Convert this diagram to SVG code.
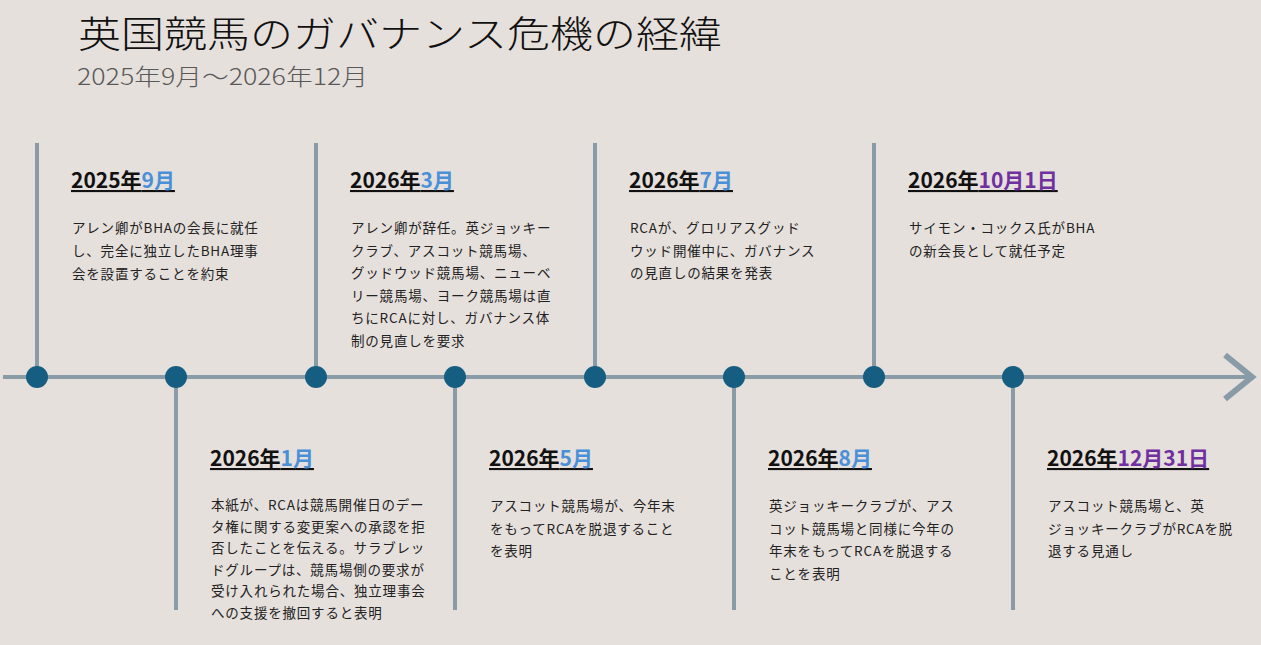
<svg xmlns="http://www.w3.org/2000/svg" width="1261" height="645" viewBox="0 0 1261 645">
<style>
.t{font-family:"Noto Sans CJK JP","Noto Sans",sans-serif}
.h{font-size:21px;font-weight:bold;fill:#111;text-decoration:underline}
.b{font-size:13.5px;fill:#222;letter-spacing:0.8px}
.bl{fill:#4a90d9}.pu{fill:#7030a0}
.v{stroke:#8a9ba8;stroke-width:4}
.d{fill:#155e82}
</style>
<rect width="1261" height="645" fill="#e6e0dc"/>
<text class="t" x="78" y="48" font-size="37" font-weight="300" fill="#111" textLength="644" lengthAdjust="spacingAndGlyphs">英国競馬のガバナンス危機の経緯</text>
<text class="t" x="77" y="85" font-size="23" font-weight="300" fill="#595959" textLength="291" lengthAdjust="spacingAndGlyphs">2025年9月～2026年12月</text>
<g id="connectors">
<line class="v" x1="3" y1="377" x2="1250" y2="377" stroke-width="6"/>
<polyline points="1225,355 1252,377 1225,399" fill="none" stroke="#8a9ba8" stroke-width="6"/>
<line class="v" x1="37" y1="143" x2="37" y2="377"/>
<line class="v" x1="176" y1="377" x2="176" y2="610"/>
<line class="v" x1="316" y1="143" x2="316" y2="377"/>
<line class="v" x1="455" y1="377" x2="455" y2="610"/>
<line class="v" x1="595" y1="143" x2="595" y2="377"/>
<line class="v" x1="734" y1="377" x2="734" y2="610"/>
<line class="v" x1="874" y1="143" x2="874" y2="377"/>
<line class="v" x1="1013" y1="377" x2="1013" y2="610"/>
</g>
<g id="n1"><circle class="d" cx="37" cy="377" r="11"/>
<text class="t h" x="71" y="188">2025年<tspan class="bl">9月</tspan></text>
<text class="t b" x="72" y="233">アレン卿がBHAの会長に就任</text><text class="t b" x="72" y="256">し、完全に独立したBHA理事</text><text class="t b" x="72" y="279">会を設置することを約束</text></g>
<g id="n2"><circle class="d" cx="176" cy="377" r="11"/>
<text class="t h" x="210" y="466">2026年<tspan class="bl">1月</tspan></text>
<text class="t b" x="211" y="510">本紙が、RCAは競馬開催日のデー</text><text class="t b" x="211" y="531.5">タ権に関する変更案への承認を拒</text><text class="t b" x="211" y="553">否したことを伝える。サラブレッ</text><text class="t b" x="211" y="574.5">ドグループは、競馬場側の要求が</text><text class="t b" x="211" y="596">受け入れられた場合、独立理事会</text><text class="t b" x="211" y="617.5">への支援を撤回すると表明</text></g>
<g id="n3"><circle class="d" cx="316" cy="377" r="11"/>
<text class="t h" x="350" y="188">2026年<tspan class="bl">3月</tspan></text>
<text class="t b" x="351" y="233">アレン卿が辞任。英ジョッキー</text><text class="t b" x="351" y="255.5">クラブ、アスコット競馬場、</text><text class="t b" x="351" y="278">グッドウッド競馬場、ニューベ</text><text class="t b" x="351" y="300.5">リー競馬場、ヨーク競馬場は直</text><text class="t b" x="351" y="323">ちにRCAに対し、ガバナンス体</text><text class="t b" x="351" y="345.5">制の見直しを要求</text></g>
<g id="n4"><circle class="d" cx="455" cy="377" r="11"/>
<text class="t h" x="489" y="466">2026年<tspan class="bl">5月</tspan></text>
<text class="t b" x="490" y="511">アスコット競馬場が、今年末</text><text class="t b" x="490" y="533.5">をもってRCAを脱退すること</text><text class="t b" x="490" y="556">を表明</text></g>
<g id="n5"><circle class="d" cx="595" cy="377" r="11"/>
<text class="t h" x="629" y="188">2026年<tspan class="bl">7月</tspan></text>
<text class="t b" x="630" y="233">RCAが、グロリアスグッド</text><text class="t b" x="630" y="255.5">ウッド開催中に、ガバナンス</text><text class="t b" x="630" y="278">の見直しの結果を発表</text></g>
<g id="n6"><circle class="d" cx="734" cy="377" r="11"/>
<text class="t h" x="768" y="466">2026年<tspan class="bl">8月</tspan></text>
<text class="t b" x="769" y="511">英ジョッキークラブが、アス</text><text class="t b" x="769" y="533.5">コット競馬場と同様に今年の</text><text class="t b" x="769" y="556">年末をもってRCAを脱退する</text><text class="t b" x="769" y="578.5">ことを表明</text></g>
<g id="n7"><circle class="d" cx="874" cy="377" r="11"/>
<text class="t h" x="908" y="188">2026年<tspan class="pu">10月1日</tspan></text>
<text class="t b" x="909" y="233">サイモン・コックス氏がBHA</text><text class="t b" x="909" y="255.5">の新会長として就任予定</text></g>
<g id="n8"><circle class="d" cx="1013" cy="377" r="11"/>
<text class="t h" x="1047" y="466">2026年<tspan class="pu">12月31日</tspan></text>
<text class="t b" x="1048" y="511">アスコット競馬場と、英</text><text class="t b" x="1048" y="533.5">ジョッキークラブがRCAを脱</text><text class="t b" x="1048" y="556">退する見通し</text></g>
</svg>
